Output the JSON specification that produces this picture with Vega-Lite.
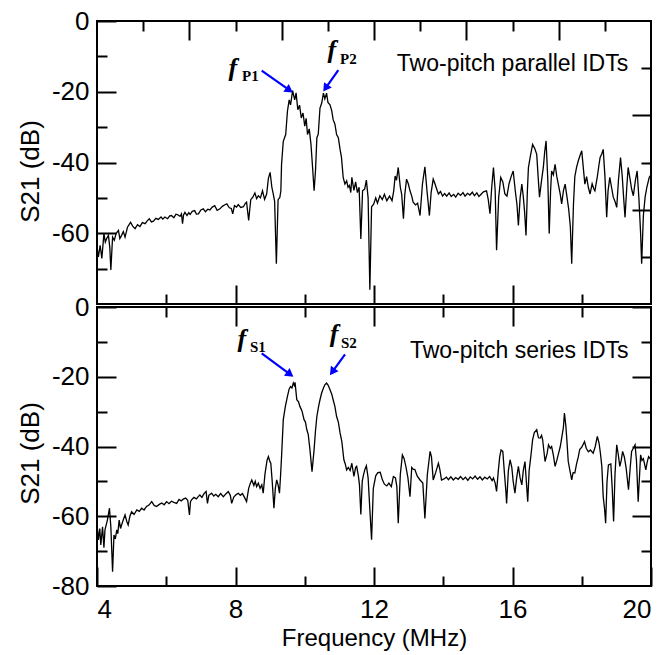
{
  "$schema": "https://vega.github.io/schema/vega-lite/v6.json",
  "padding": {"left": 16, "top": 7, "right": 2, "bottom": 1},
  "background": "white",
  "bounds": "flush",
  "spacing": 3,
  "config": {
    "view": {"stroke": "black", "strokeWidth": 2},
    "axis": {"domain": false, "grid": false, "ticks": true, "tickColor": "black", "tickWidth": 2,
             "labelFont": "Liberation Sans", "labelFontSize": 26, "labelColor": "black",
             "titleFont": "Liberation Sans", "titleFontSize": 26, "titleFontWeight": "normal", "titleColor": "black"}
  },
  "datasets": {
    "top": [
      {"f":4.00,"s":-63.9},{"f":4.04,"s":-66.7},{"f":4.09,"s":-63.4},{"f":4.14,"s":-67.1},{"f":4.20,"s":-60.1},{"f":4.24,"s":-62.5},{"f":4.28,"s":-61.5},{"f":4.33,"s":-60.6},{"f":4.37,"s":-64.0},{"f":4.40,"s":-70.4},
      {"f":4.45,"s":-61.1},{"f":4.50,"s":-62.0},{"f":4.55,"s":-60.1},{"f":4.62,"s":-59.2},{"f":4.66,"s":-61.5},{"f":4.71,"s":-60.6},{"f":4.76,"s":-59.5},{"f":4.81,"s":-61.1},{"f":4.88,"s":-58.3},{"f":4.97,"s":-56.9},
      {"f":5.03,"s":-58.0},{"f":5.10,"s":-58.7},{"f":5.17,"s":-57.6},{"f":5.24,"s":-58.1},{"f":5.31,"s":-57.0},{"f":5.39,"s":-57.3},{"f":5.45,"s":-56.5},{"f":5.51,"s":-55.9},{"f":5.57,"s":-56.8},{"f":5.63,"s":-56.6},
      {"f":5.70,"s":-55.8},{"f":5.77,"s":-56.1},{"f":5.85,"s":-55.4},{"f":5.90,"s":-56.0},{"f":5.96,"s":-55.4},{"f":6.04,"s":-55.9},{"f":6.10,"s":-55.1},{"f":6.15,"s":-55.0},{"f":6.22,"s":-55.6},{"f":6.28,"s":-54.6},
      {"f":6.32,"s":-54.7},{"f":6.40,"s":-55.2},{"f":6.44,"s":-54.5},{"f":6.47,"s":-57.3},{"f":6.50,"s":-54.8},{"f":6.54,"s":-54.1},{"f":6.60,"s":-55.0},{"f":6.65,"s":-54.2},{"f":6.69,"s":-54.7},{"f":6.75,"s":-53.8},
      {"f":6.82,"s":-53.6},{"f":6.87,"s":-54.6},{"f":6.93,"s":-54.5},{"f":7.00,"s":-53.4},{"f":7.07,"s":-53.1},{"f":7.13,"s":-53.9},{"f":7.20,"s":-53.2},{"f":7.26,"s":-53.4},{"f":7.33,"s":-52.6},{"f":7.40,"s":-52.2},
      {"f":7.47,"s":-53.5},{"f":7.55,"s":-53.1},{"f":7.62,"s":-52.4},{"f":7.68,"s":-52.0},{"f":7.75,"s":-51.7},{"f":7.82,"s":-52.8},{"f":7.88,"s":-53.0},{"f":7.92,"s":-54.5},{"f":7.97,"s":-52.2},{"f":8.03,"s":-52.6},
      {"f":8.08,"s":-51.9},{"f":8.15,"s":-52.7},{"f":8.23,"s":-52.5},{"f":8.28,"s":-51.6},{"f":8.32,"s":-51.2},{"f":8.38,"s":-56.4},{"f":8.44,"s":-50.5},{"f":8.50,"s":-49.8},{"f":8.56,"s":-48.6},{"f":8.61,"s":-50.2},
      {"f":8.66,"s":-49.4},{"f":8.72,"s":-50.0},{"f":8.78,"s":-48.0},{"f":8.84,"s":-50.4},{"f":8.90,"s":-48.9},{"f":8.95,"s":-44.5},{"f":9.00,"s":-42.8},{"f":9.05,"s":-47.0},{"f":9.09,"s":-48.9},{"f":9.13,"s":-51.0},
      {"f":9.18,"s":-68.6},{"f":9.23,"s":-50.5},{"f":9.28,"s":-49.9},{"f":9.31,"s":-48.0},{"f":9.33,"s":-40.5},{"f":9.38,"s":-34.0},{"f":9.45,"s":-32.1},{"f":9.50,"s":-25.5},{"f":9.55,"s":-22.3},{"f":9.59,"s":-23.7},
      {"f":9.65,"s":-19.7},{"f":9.71,"s":-22.3},{"f":9.75,"s":-20.3},{"f":9.80,"s":-25.1},{"f":9.85,"s":-23.8},{"f":9.90,"s":-27.4},{"f":9.95,"s":-26.0},{"f":10.00,"s":-29.7},{"f":10.04,"s":-27.5},{"f":10.08,"s":-32.1},
      {"f":10.13,"s":-30.5},{"f":10.18,"s":-34.9},{"f":10.22,"s":-40.5},{"f":10.27,"s":-48.0},{"f":10.31,"s":-42.4},{"f":10.35,"s":-33.0},{"f":10.39,"s":-32.0},{"f":10.44,"s":-24.6},{"f":10.49,"s":-23.2},{"f":10.54,"s":-20.4},
      {"f":10.58,"s":-22.0},{"f":10.63,"s":-20.4},{"f":10.67,"s":-23.0},{"f":10.73,"s":-23.7},{"f":10.78,"s":-25.4},{"f":10.82,"s":-27.9},{"f":10.87,"s":-29.1},{"f":10.92,"s":-32.1},{"f":10.97,"s":-33.0},{"f":11.02,"s":-36.3},
      {"f":11.06,"s":-38.5},{"f":11.11,"s":-44.2},{"f":11.16,"s":-46.1},{"f":11.21,"s":-45.2},{"f":11.25,"s":-47.0},{"f":11.29,"s":-46.5},{"f":11.33,"s":-48.5},{"f":11.36,"s":-44.2},{"f":11.42,"s":-47.9},{"f":11.47,"s":-45.5},
      {"f":11.52,"s":-48.5},{"f":11.57,"s":-47.0},{"f":11.62,"s":-61.6},{"f":11.67,"s":-48.0},{"f":11.73,"s":-47.5},{"f":11.78,"s":-45.0},{"f":11.83,"s":-50.0},{"f":11.88,"s":-76.0},{"f":11.93,"s":-52.5},{"f":11.99,"s":-51.8},
      {"f":12.05,"s":-50.0},{"f":12.10,"s":-51.5},{"f":12.17,"s":-49.4},{"f":12.24,"s":-50.5},{"f":12.30,"s":-49.0},{"f":12.37,"s":-50.8},{"f":12.45,"s":-49.5},{"f":12.52,"s":-50.8},{"f":12.57,"s":-48.0},{"f":12.61,"s":-43.8},
      {"f":12.65,"s":-45.0},{"f":12.70,"s":-41.4},{"f":12.76,"s":-47.0},{"f":12.80,"s":-49.0},{"f":12.85,"s":-55.9},{"f":12.89,"s":-49.0},{"f":12.94,"s":-44.7},{"f":12.99,"s":-46.0},{"f":13.04,"s":-48.0},{"f":13.09,"s":-49.5},
      {"f":13.13,"s":-51.2},{"f":13.20,"s":-52.0},{"f":13.26,"s":-51.5},{"f":13.33,"s":-55.0},{"f":13.40,"s":-46.0},{"f":13.47,"s":-41.2},{"f":13.53,"s":-48.0},{"f":13.60,"s":-55.0},{"f":13.65,"s":-48.5},{"f":13.71,"s":-44.7},
      {"f":13.76,"s":-46.0},{"f":13.81,"s":-47.5},{"f":13.86,"s":-48.9},{"f":13.92,"s":-48.2},{"f":13.98,"s":-49.5},{"f":14.04,"s":-48.8},{"f":14.10,"s":-49.5},{"f":14.17,"s":-48.6},{"f":14.23,"s":-49.6},{"f":14.30,"s":-49.0},
      {"f":14.36,"s":-49.8},{"f":14.43,"s":-48.7},{"f":14.50,"s":-49.3},{"f":14.57,"s":-48.5},{"f":14.63,"s":-49.5},{"f":14.70,"s":-48.7},{"f":14.77,"s":-49.2},{"f":14.84,"s":-48.4},{"f":14.90,"s":-49.4},{"f":14.97,"s":-48.6},
      {"f":15.03,"s":-49.6},{"f":15.10,"s":-48.9},{"f":15.16,"s":-48.3},{"f":15.25,"s":-48.0},{"f":15.30,"s":-50.5},{"f":15.35,"s":-54.5},{"f":15.40,"s":-47.0},{"f":15.45,"s":-41.4},{"f":15.50,"s":-48.0},{"f":15.54,"s":-64.8},
      {"f":15.60,"s":-50.0},{"f":15.66,"s":-44.2},{"f":15.72,"s":-45.5},{"f":15.78,"s":-48.9},{"f":15.84,"s":-49.5},{"f":15.90,"s":-46.0},{"f":15.96,"s":-44.0},{"f":16.02,"s":-42.4},{"f":16.08,"s":-48.0},{"f":16.13,"s":-52.0},
      {"f":16.17,"s":-57.8},{"f":16.22,"s":-50.0},{"f":16.27,"s":-46.1},{"f":16.31,"s":-49.5},{"f":16.35,"s":-54.0},{"f":16.39,"s":-60.6},{"f":16.43,"s":-48.0},{"f":16.46,"s":-41.4},{"f":16.52,"s":-38.0},{"f":16.58,"s":-34.9},
      {"f":16.64,"s":-36.0},{"f":16.70,"s":-37.7},{"f":16.74,"s":-44.0},{"f":16.78,"s":-49.8},{"f":16.84,"s":-45.0},{"f":16.89,"s":-41.4},{"f":16.93,"s":-37.0},{"f":16.97,"s":-33.9},{"f":17.02,"s":-45.0},{"f":17.06,"s":-60.1},
      {"f":17.10,"s":-48.0},{"f":17.13,"s":-42.4},{"f":17.18,"s":-43.5},{"f":17.23,"s":-40.5},{"f":17.28,"s":-44.0},{"f":17.33,"s":-46.5},{"f":17.38,"s":-49.0},{"f":17.42,"s":-51.7},{"f":17.47,"s":-48.0},{"f":17.52,"s":-46.1},
      {"f":17.57,"s":-49.5},{"f":17.62,"s":-53.0},{"f":17.67,"s":-58.0},{"f":17.71,"s":-68.6},{"f":17.76,"s":-52.0},{"f":17.80,"s":-44.0},{"f":17.85,"s":-41.4},{"f":17.90,"s":-39.5},{"f":17.95,"s":-38.0},{"f":18.00,"s":-36.7},
      {"f":18.05,"s":-42.0},{"f":18.09,"s":-46.1},{"f":18.14,"s":-44.0},{"f":18.19,"s":-47.0},{"f":18.24,"s":-48.9},{"f":18.30,"s":-46.0},{"f":18.35,"s":-47.5},{"f":18.38,"s":-48.0},{"f":18.45,"s":-44.0},{"f":18.50,"s":-40.5},
      {"f":18.53,"s":-38.6},{"f":18.58,"s":-37.5},{"f":18.62,"s":-36.3},{"f":18.67,"s":-44.0},{"f":18.72,"s":-55.5},{"f":18.76,"s":-48.0},{"f":18.81,"s":-44.2},{"f":18.86,"s":-47.0},{"f":18.91,"s":-49.8},{"f":18.96,"s":-51.0},
      {"f":19.01,"s":-52.7},{"f":19.06,"s":-45.0},{"f":19.12,"s":-38.6},{"f":19.17,"s":-44.0},{"f":19.21,"s":-50.0},{"f":19.25,"s":-55.5},{"f":19.30,"s":-47.0},{"f":19.34,"s":-41.4},{"f":19.40,"s":-45.0},{"f":19.44,"s":-47.5},
      {"f":19.49,"s":-49.4},{"f":19.55,"s":-45.0},{"f":19.60,"s":-42.4},{"f":19.65,"s":-50.0},{"f":19.70,"s":-60.0},{"f":19.73,"s":-68.6},{"f":19.78,"s":-55.0},{"f":19.83,"s":-49.8},{"f":19.88,"s":-47.0},{"f":19.95,"s":-44.2},
      {"f":20.00,"s":-43.5}
    ],
    "bottom": [
      {"f":4.00,"s":-62.0},{"f":4.04,"s":-66.8},{"f":4.08,"s":-63.5},{"f":4.11,"s":-68.2},{"f":4.16,"s":-63.0},{"f":4.20,"s":-69.0},{"f":4.23,"s":-63.9},{"f":4.30,"s":-61.1},{"f":4.36,"s":-57.7},{"f":4.40,"s":-63.0},
      {"f":4.45,"s":-75.9},{"f":4.49,"s":-65.4},{"f":4.53,"s":-66.5},{"f":4.57,"s":-63.9},{"f":4.60,"s":-65.0},{"f":4.64,"s":-61.1},{"f":4.68,"s":-63.5},{"f":4.71,"s":-62.5},{"f":4.76,"s":-61.0},{"f":4.81,"s":-59.6},
      {"f":4.86,"s":-61.5},{"f":4.90,"s":-62.5},{"f":4.95,"s":-60.0},{"f":5.00,"s":-58.7},{"f":5.07,"s":-59.5},{"f":5.15,"s":-58.2},{"f":5.22,"s":-58.6},{"f":5.29,"s":-57.7},{"f":5.36,"s":-58.2},{"f":5.43,"s":-57.2},
      {"f":5.50,"s":-56.8},{"f":5.58,"s":-55.8},{"f":5.65,"s":-56.9},{"f":5.72,"s":-57.2},{"f":5.80,"s":-56.6},{"f":5.87,"s":-56.2},{"f":5.94,"s":-56.7},{"f":6.01,"s":-55.8},{"f":6.08,"s":-56.4},{"f":6.15,"s":-55.7},
      {"f":6.22,"s":-56.0},{"f":6.30,"s":-56.3},{"f":6.37,"s":-55.2},{"f":6.43,"s":-55.6},{"f":6.49,"s":-55.1},{"f":6.56,"s":-54.8},{"f":6.62,"s":-55.4},{"f":6.67,"s":-59.6},{"f":6.70,"s":-55.8},{"f":6.73,"s":-55.3},
      {"f":6.80,"s":-54.6},{"f":6.87,"s":-55.0},{"f":6.93,"s":-54.3},{"f":6.97,"s":-53.9},{"f":7.03,"s":-54.6},{"f":7.09,"s":-53.5},{"f":7.15,"s":-52.9},{"f":7.19,"s":-56.3},{"f":7.23,"s":-54.0},{"f":7.31,"s":-53.4},
      {"f":7.37,"s":-54.2},{"f":7.43,"s":-53.7},{"f":7.50,"s":-54.4},{"f":7.57,"s":-53.5},{"f":7.65,"s":-54.4},{"f":7.72,"s":-53.6},{"f":7.79,"s":-52.9},{"f":7.85,"s":-54.0},{"f":7.89,"s":-56.3},{"f":7.95,"s":-54.5},
      {"f":8.02,"s":-53.8},{"f":8.08,"s":-53.4},{"f":8.14,"s":-54.0},{"f":8.20,"s":-53.5},{"f":8.26,"s":-54.6},{"f":8.32,"s":-55.8},{"f":8.38,"s":-52.0},{"f":8.43,"s":-50.5},{"f":8.47,"s":-49.6},{"f":8.53,"s":-51.2},
      {"f":8.57,"s":-50.0},{"f":8.61,"s":-51.5},{"f":8.66,"s":-50.5},{"f":8.71,"s":-52.0},{"f":8.76,"s":-51.0},{"f":8.80,"s":-53.4},{"f":8.85,"s":-48.0},{"f":8.91,"s":-44.0},{"f":8.95,"s":-42.9},{"f":9.00,"s":-44.5},
      {"f":9.02,"s":-44.8},{"f":9.06,"s":-50.0},{"f":9.11,"s":-57.7},{"f":9.15,"s":-52.0},{"f":9.19,"s":-49.6},{"f":9.23,"s":-51.0},{"f":9.27,"s":-53.4},{"f":9.30,"s":-48.6},{"f":9.33,"s":-42.9},{"f":9.38,"s":-32.3},
      {"f":9.44,"s":-28.5},{"f":9.50,"s":-25.6},{"f":9.55,"s":-23.5},{"f":9.59,"s":-22.8},{"f":9.63,"s":-23.2},{"f":9.67,"s":-21.8},{"f":9.70,"s":-22.5},{"f":9.72,"s":-21.6},{"f":9.77,"s":-26.6},{"f":9.82,"s":-27.2},
      {"f":9.86,"s":-28.5},{"f":9.92,"s":-29.8},{"f":9.98,"s":-32.3},{"f":10.02,"s":-33.0},{"f":10.06,"s":-35.2},{"f":10.10,"s":-36.5},{"f":10.15,"s":-40.9},{"f":10.21,"s":-47.2},{"f":10.27,"s":-40.9},{"f":10.31,"s":-35.5},
      {"f":10.35,"s":-31.4},{"f":10.40,"s":-28.5},{"f":10.44,"s":-26.6},{"f":10.49,"s":-24.6},{"f":10.54,"s":-23.2},{"f":10.58,"s":-22.3},{"f":10.63,"s":-21.8},{"f":10.68,"s":-22.5},{"f":10.73,"s":-23.7},{"f":10.78,"s":-25.0},
      {"f":10.82,"s":-26.6},{"f":10.87,"s":-28.5},{"f":10.92,"s":-31.4},{"f":10.97,"s":-33.0},{"f":11.02,"s":-36.1},{"f":11.07,"s":-38.5},{"f":11.13,"s":-43.8},{"f":11.17,"s":-45.0},{"f":11.21,"s":-46.7},{"f":11.26,"s":-46.0},
      {"f":11.31,"s":-46.9},{"f":11.36,"s":-44.8},{"f":11.42,"s":-48.6},{"f":11.47,"s":-46.0},{"f":11.50,"s":-45.7},{"f":11.55,"s":-48.5},{"f":11.58,"s":-51.0},{"f":11.62,"s":-59.5},{"f":11.66,"s":-50.0},{"f":11.70,"s":-48.0},
      {"f":11.74,"s":-46.5},{"f":11.78,"s":-45.5},{"f":11.83,"s":-49.0},{"f":11.88,"s":-58.0},{"f":11.93,"s":-66.7},{"f":11.98,"s":-52.0},{"f":12.05,"s":-48.4},{"f":12.11,"s":-47.5},{"f":12.18,"s":-47.4},{"f":12.24,"s":-49.5},
      {"f":12.30,"s":-50.8},{"f":12.37,"s":-51.3},{"f":12.43,"s":-50.5},{"f":12.50,"s":-51.5},{"f":12.56,"s":-48.6},{"f":12.62,"s":-49.0},{"f":12.66,"s":-51.5},{"f":12.70,"s":-62.0},{"f":12.76,"s":-48.0},{"f":12.82,"s":-42.4},
      {"f":12.87,"s":-43.5},{"f":12.92,"s":-45.7},{"f":12.98,"s":-49.0},{"f":13.04,"s":-54.4},{"f":13.09,"s":-46.0},{"f":13.13,"s":-46.5},{"f":13.18,"s":-46.6},{"f":13.25,"s":-48.5},{"f":13.33,"s":-49.6},{"f":13.41,"s":-50.5},
      {"f":13.47,"s":-60.6},{"f":13.54,"s":-48.1},{"f":13.62,"s":-41.4},{"f":13.66,"s":-43.0},{"f":13.71,"s":-49.6},{"f":13.78,"s":-47.5},{"f":13.86,"s":-44.8},{"f":13.90,"s":-46.5},{"f":13.95,"s":-49.6},{"f":14.02,"s":-49.3},
      {"f":14.09,"s":-48.8},{"f":14.15,"s":-49.5},{"f":14.22,"s":-48.7},{"f":14.29,"s":-49.6},{"f":14.36,"s":-48.9},{"f":14.43,"s":-49.4},{"f":14.50,"s":-48.6},{"f":14.57,"s":-49.5},{"f":14.64,"s":-48.8},{"f":14.71,"s":-49.7},
      {"f":14.78,"s":-48.7},{"f":14.85,"s":-49.3},{"f":14.92,"s":-48.5},{"f":14.99,"s":-49.4},{"f":15.06,"s":-48.7},{"f":15.13,"s":-49.6},{"f":15.20,"s":-48.8},{"f":15.27,"s":-49.3},{"f":15.34,"s":-48.6},{"f":15.41,"s":-49.8},
      {"f":15.45,"s":-49.0},{"f":15.50,"s":-50.5},{"f":15.54,"s":-52.9},{"f":15.59,"s":-47.0},{"f":15.63,"s":-43.0},{"f":15.67,"s":-41.0},{"f":15.72,"s":-41.4},{"f":15.77,"s":-48.0},{"f":15.81,"s":-53.0},{"f":15.83,"s":-56.3},
      {"f":15.88,"s":-47.0},{"f":15.93,"s":-43.8},{"f":15.98,"s":-46.0},{"f":16.02,"s":-50.0},{"f":16.07,"s":-53.4},{"f":16.12,"s":-49.0},{"f":16.17,"s":-45.7},{"f":16.22,"s":-49.0},{"f":16.27,"s":-51.0},{"f":16.31,"s":-47.0},
      {"f":16.36,"s":-44.3},{"f":16.40,"s":-50.0},{"f":16.44,"s":-55.8},{"f":16.48,"s":-47.0},{"f":16.51,"s":-44.5},{"f":16.55,"s":-41.0},{"f":16.58,"s":-38.1},{"f":16.63,"s":-36.0},{"f":16.70,"s":-35.2},{"f":16.75,"s":-37.5},
      {"f":16.80,"s":-37.6},{"f":16.84,"s":-36.8},{"f":16.87,"s":-38.0},{"f":16.94,"s":-44.3},{"f":17.00,"s":-42.0},{"f":17.04,"s":-39.5},{"f":17.09,"s":-40.5},{"f":17.13,"s":-40.0},{"f":17.18,"s":-42.5},{"f":17.23,"s":-45.7},
      {"f":17.28,"s":-44.0},{"f":17.32,"s":-42.4},{"f":17.38,"s":-40.0},{"f":17.42,"s":-37.6},{"f":17.47,"s":-34.5},{"f":17.50,"s":-30.4},{"f":17.54,"s":-34.0},{"f":17.57,"s":-38.1},{"f":17.61,"s":-44.3},{"f":17.66,"s":-47.0},
      {"f":17.71,"s":-49.6},{"f":17.75,"s":-47.5},{"f":17.80,"s":-47.6},{"f":17.85,"s":-45.0},{"f":17.90,"s":-43.0},{"f":17.94,"s":-40.9},{"f":18.00,"s":-40.2},{"f":18.08,"s":-38.6},{"f":18.13,"s":-40.5},{"f":18.19,"s":-41.5},
      {"f":18.25,"s":-41.0},{"f":18.33,"s":-41.9},{"f":18.39,"s":-40.0},{"f":18.45,"s":-37.1},{"f":18.50,"s":-39.0},{"f":18.54,"s":-42.0},{"f":18.58,"s":-45.7},{"f":18.62,"s":-54.4},{"f":18.66,"s":-58.0},{"f":18.69,"s":-62.0},
      {"f":18.73,"s":-50.0},{"f":18.77,"s":-45.3},{"f":18.84,"s":-45.0},{"f":18.88,"s":-52.0},{"f":18.92,"s":-61.5},{"f":18.96,"s":-48.0},{"f":19.01,"s":-39.5},{"f":19.05,"s":-42.0},{"f":19.10,"s":-45.7},{"f":19.14,"s":-44.0},
      {"f":19.18,"s":-41.4},{"f":19.23,"s":-43.0},{"f":19.28,"s":-46.0},{"f":19.35,"s":-52.4},{"f":19.40,"s":-46.0},{"f":19.44,"s":-41.4},{"f":19.49,"s":-40.5},{"f":19.54,"s":-39.5},{"f":19.58,"s":-44.0},{"f":19.63,"s":-55.8},
      {"f":19.66,"s":-50.0},{"f":19.70,"s":-42.4},{"f":19.74,"s":-44.0},{"f":19.78,"s":-43.5},{"f":19.85,"s":-46.7},{"f":19.89,"s":-44.5},{"f":19.93,"s":-42.9},{"f":20.00,"s":-43.8}
    ],
    "corners": [{"f":4,"s":0},{"f":20,"s":-80}]
  },
  "vconcat": [
    {
      "width": 554,
      "height": 283,
      "resolve": {"axis": {"x": "independent", "y": "independent"}},
      "layer": [
        {
          "data": {"name": "top"},
          "mark": {"type": "line", "color": "black", "strokeWidth": 1.3},
          "encoding": {
            "x": {"field": "f", "type": "quantitative", "scale": {"domain": [4, 20], "nice": false, "zero": false},
                  "axis": {"orient": "bottom", "values": [8, 12, 16], "tickSize": -19, "labels": false, "title": null}},
            "y": {"field": "s", "type": "quantitative", "scale": {"domain": [-80, 0], "nice": false, "zero": false},
                  "axis": {"orient": "left", "values": [0, -20, -40, -60], "tickSize": -19, "labelPadding": 27, "labelExpr": "'' + datum.value", "title": "S21 (dB)", "titlePadding": 8, "titleY": 150}}
          }
        },
        {
          "data": {"name": "corners"},
          "mark": {"type": "line", "opacity": 0},
          "encoding": {
            "x": {"field": "f", "type": "quantitative", "axis": {"orient": "bottom", "values": [6, 10, 14, 18], "tickSize": -10, "labels": false, "title": null}},
            "y": {"field": "s", "type": "quantitative", "axis": {"orient": "left", "values": [-10, -30, -50, -70], "tickSize": -10, "labels": false, "title": null}}
          }
        },
        {
          "data": {"name": "corners"},
          "mark": {"type": "line", "opacity": 0},
          "encoding": {
            "x": {"field": "f", "type": "quantitative", "axis": {"orient": "top", "values": [6.6667, 9.3333, 12, 14.6667, 17.3333], "tickSize": -19, "labels": false, "title": null}},
            "y": {"field": "s", "type": "quantitative", "axis": {"orient": "right", "values": [-26.6667, -53.3333], "tickSize": -19, "labels": false, "title": null}}
          }
        },
        {
          "data": {"name": "corners"},
          "mark": {"type": "line", "opacity": 0},
          "encoding": {
            "x": {"field": "f", "type": "quantitative", "axis": {"orient": "top", "values": [5.3333, 8, 10.6667, 13.3333, 16, 18.6667], "tickSize": -10, "labels": false, "title": null}},
            "y": {"field": "s", "type": "quantitative", "axis": {"orient": "right", "values": [-13.3333, -40, -66.6667], "tickSize": -10, "labels": false, "title": null}}
          }
        },
        {
          "data": {"values": [{"x": 8.757, "y": -14.0, "x2": 9.557, "y2": -19.55}, {"x": 10.969, "y": -13.86, "x2": 10.602, "y2": -19.0}]},
          "mark": {"type": "rule", "color": "#0000ff", "strokeWidth": 2.2},
          "encoding": {
            "x": {"field": "x", "type": "quantitative", "axis": null}, "y": {"field": "y", "type": "quantitative", "axis": null},
            "x2": {"field": "x2"}, "y2": {"field": "y2"}
          }
        },
        {
          "data": {"values": [{"x": 9.557, "y": -19.55, "a": 125.4}, {"x": 10.602, "y": -19.0, "a": 214.8}]},
          "mark": {"type": "point", "shape": "triangle-up", "filled": true, "color": "#0000ff", "opacity": 1, "size": 90},
          "encoding": {
            "x": {"field": "x", "type": "quantitative", "axis": null}, "y": {"field": "y", "type": "quantitative", "axis": null},
            "angle": {"field": "a", "type": "quantitative", "scale": null}
          }
        },
        {
          "data": {"values": [{"x": 7.80, "y": -15.5, "t": "f"}, {"x": 10.66, "y": -10.4, "t": "f"}]},
          "mark": {"type": "text", "font": "Liberation Serif", "fontStyle": "italic", "fontWeight": "bold", "fontSize": 26, "align": "left", "baseline": "alphabetic", "color": "black"},
          "encoding": {
            "x": {"field": "x", "type": "quantitative", "axis": null}, "y": {"field": "y", "type": "quantitative", "axis": null},
            "text": {"field": "t"}
          }
        },
        {
          "data": {"values": [{"x": 8.188, "y": -16.9, "t": "P1"}, {"x": 11.018, "y": -12.1, "t": "P2"}]},
          "mark": {"type": "text", "font": "Liberation Serif", "fontWeight": "bold", "fontSize": 15, "align": "left", "baseline": "alphabetic", "color": "black"},
          "encoding": {
            "x": {"field": "x", "type": "quantitative", "axis": null}, "y": {"field": "y", "type": "quantitative", "axis": null},
            "text": {"field": "t"}
          }
        },
        {
          "data": {"values": [{"x": 19.34, "y": -14.2, "t": "Two-pitch parallel IDTs"}]},
          "mark": {"type": "text", "font": "Liberation Sans", "fontSize": 23, "align": "right", "baseline": "alphabetic", "color": "black"},
          "encoding": {
            "x": {"field": "x", "type": "quantitative", "axis": null}, "y": {"field": "y", "type": "quantitative", "axis": null},
            "text": {"field": "t"}
          }
        }
      ]
    },
    {
      "width": 554,
      "height": 279,
      "resolve": {"axis": {"x": "independent", "y": "independent"}},
      "layer": [
        {
          "data": {"name": "bottom"},
          "mark": {"type": "line", "color": "black", "strokeWidth": 1.3},
          "encoding": {
            "x": {"field": "f", "type": "quantitative", "scale": {"domain": [4, 20], "nice": false, "zero": false},
                  "axis": {"orient": "bottom", "values": [4, 8, 12, 16, 20], "tickSize": -19, "labelPadding": 29, "labelExpr": "'' + datum.value", "title": "Frequency (MHz)", "titlePadding": 4, "titleFontSize": 24}},
            "y": {"field": "s", "type": "quantitative", "scale": {"domain": [-80, 0], "nice": false, "zero": false},
                  "axis": {"orient": "left", "values": [0, -20, -40, -60, -80], "tickSize": -19, "labelPadding": 27, "labelExpr": "'' + datum.value", "title": "S21 (dB)", "titlePadding": 8, "titleY": 146}}
          }
        },
        {
          "data": {"name": "corners"},
          "mark": {"type": "line", "opacity": 0},
          "encoding": {
            "x": {"field": "f", "type": "quantitative", "axis": {"orient": "bottom", "values": [6, 10, 14, 18], "tickSize": -10, "labels": false, "title": null}},
            "y": {"field": "s", "type": "quantitative", "axis": {"orient": "left", "values": [-10, -30, -50, -70], "tickSize": -10, "labels": false, "title": null}}
          }
        },
        {
          "data": {"name": "corners"},
          "mark": {"type": "line", "opacity": 0},
          "encoding": {
            "x": {"field": "f", "type": "quantitative", "axis": {"orient": "top", "values": [8, 12, 16], "tickSize": -19, "labels": false, "title": null}},
            "y": {"field": "s", "type": "quantitative", "axis": {"orient": "right", "values": [0, -20, -40, -60], "tickSize": -19, "labels": false, "title": null}}
          }
        },
        {
          "data": {"name": "corners"},
          "mark": {"type": "line", "opacity": 0},
          "encoding": {
            "x": {"field": "f", "type": "quantitative", "axis": {"orient": "top", "values": [6, 10, 14, 18], "tickSize": -10, "labels": false, "title": null}},
            "y": {"field": "s", "type": "quantitative", "axis": {"orient": "right", "values": [-10, -30, -50, -70], "tickSize": -10, "labels": false, "title": null}}
          }
        },
        {
          "data": {"values": [{"x": 8.757, "y": -13.3, "x2": 9.577, "y2": -19.3}, {"x": 11.163, "y": -13.6, "x2": 10.796, "y2": -18.6}]},
          "mark": {"type": "rule", "color": "#0000ff", "strokeWidth": 2.2},
          "encoding": {
            "x": {"field": "x", "type": "quantitative", "axis": null}, "y": {"field": "y", "type": "quantitative", "axis": null},
            "x2": {"field": "x2"}, "y2": {"field": "y2"}
          }
        },
        {
          "data": {"values": [{"x": 9.577, "y": -19.3, "a": 126.4}, {"x": 10.796, "y": -18.6, "a": 215.9}]},
          "mark": {"type": "point", "shape": "triangle-up", "filled": true, "color": "#0000ff", "opacity": 1, "size": 90},
          "encoding": {
            "x": {"field": "x", "type": "quantitative", "axis": null}, "y": {"field": "y", "type": "quantitative", "axis": null},
            "angle": {"field": "a", "type": "quantitative", "scale": null}
          }
        },
        {
          "data": {"values": [{"x": 8.06, "y": -11.5, "t": "f"}, {"x": 10.72, "y": -10.06, "t": "f"}]},
          "mark": {"type": "text", "font": "Liberation Serif", "fontStyle": "italic", "fontWeight": "bold", "fontSize": 26, "align": "left", "baseline": "alphabetic", "color": "black"},
          "encoding": {
            "x": {"field": "x", "type": "quantitative", "axis": null}, "y": {"field": "y", "type": "quantitative", "axis": null},
            "text": {"field": "t"}
          }
        },
        {
          "data": {"values": [{"x": 8.419, "y": -12.8, "t": "S1"}, {"x": 11.047, "y": -11.7, "t": "S2"}]},
          "mark": {"type": "text", "font": "Liberation Serif", "fontWeight": "bold", "fontSize": 15, "align": "left", "baseline": "alphabetic", "color": "black"},
          "encoding": {
            "x": {"field": "x", "type": "quantitative", "axis": null}, "y": {"field": "y", "type": "quantitative", "axis": null},
            "text": {"field": "t"}
          }
        },
        {
          "data": {"values": [{"x": 19.35, "y": -14.6, "t": "Two-pitch series IDTs"}]},
          "mark": {"type": "text", "font": "Liberation Sans", "fontSize": 23, "align": "right", "baseline": "alphabetic", "color": "black"},
          "encoding": {
            "x": {"field": "x", "type": "quantitative", "axis": null}, "y": {"field": "y", "type": "quantitative", "axis": null},
            "text": {"field": "t"}
          }
        }
      ]
    }
  ]
}
